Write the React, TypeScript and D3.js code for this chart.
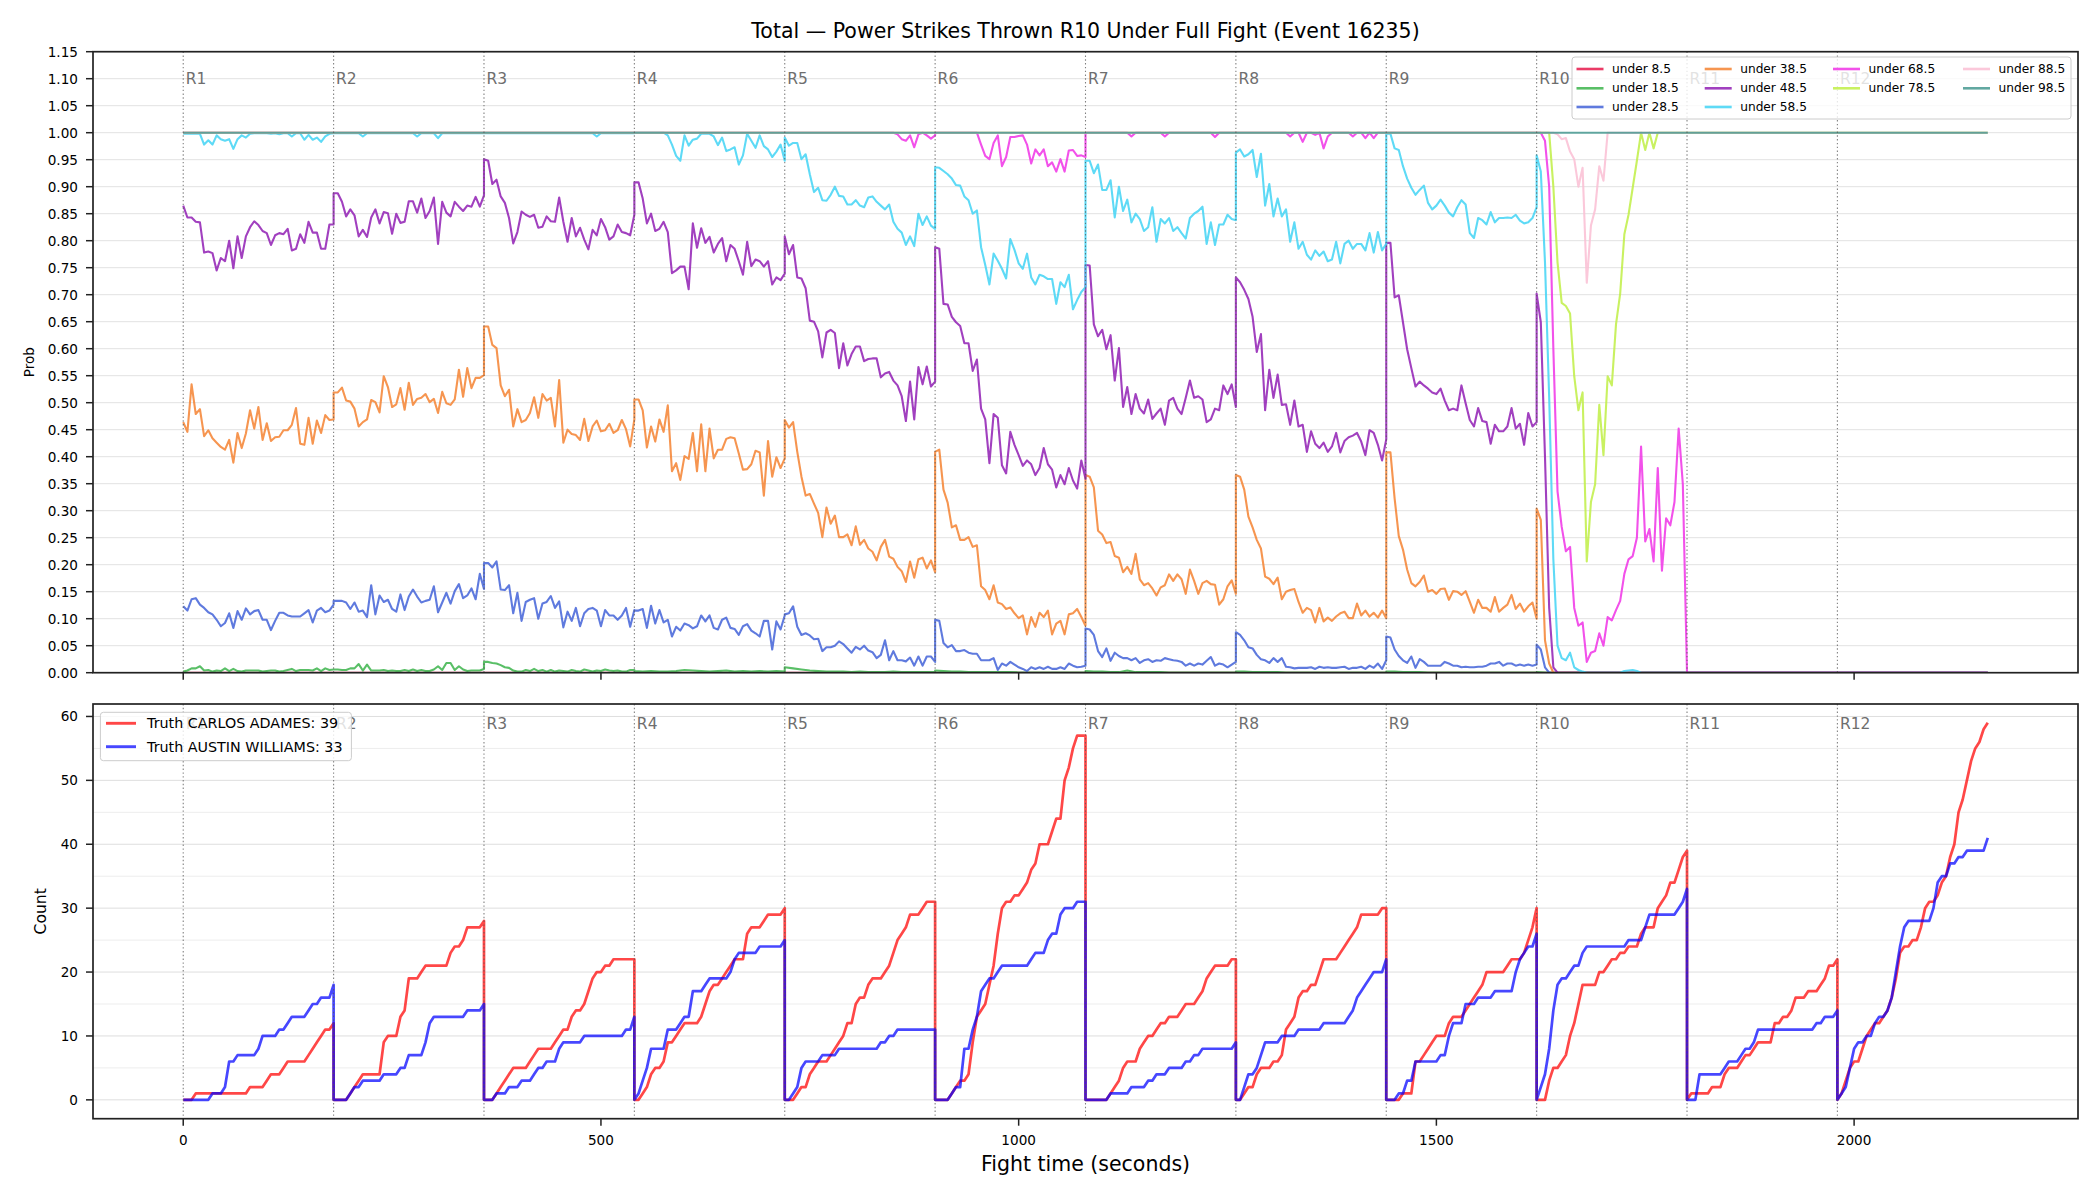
import React from "react";
import * as d3 from "d3";

// ---- data -----------------------------------------------------------------
// Each series is a list of 12 rounds; each round's values are spread evenly
// across that round's 180 seconds.

const ROUND_SECONDS = 180;
const ROUND_NAMES = ["R1", "R2", "R3", "R4", "R5", "R6", "R7", "R8", "R9", "R10", "R11", "R12"];
const X_TICKS = [0, 500, 1000, 1500, 2000];
const PROB_TICKS = [0, 0.05, 0.1, 0.15, 0.2, 0.25, 0.3, 0.35, 0.4, 0.45, 0.5, 0.55, 0.6, 0.65, 0.7, 0.75, 0.8, 0.85, 0.9, 0.95, 1.0, 1.05, 1.1, 1.15];
const COUNT_TICKS = [0, 10, 20, 30, 40, 50, 60];
const COUNT_MINOR = [5, 15, 25, 35, 45, 55];

const LINE_LABELS = ["under 8.5", "under 18.5", "under 28.5", "under 38.5", "under 48.5", "under 58.5", "under 68.5", "under 78.5", "under 88.5", "under 98.5"];
const LINE_COLORS = ["#e6194B", "#3cb44b", "#4363d8", "#f58231", "#911eb4", "#42d4f4", "#f032e6", "#bfef45", "#fabed4", "#469990"];

const UNDER_8_5 = [[0, 0], [0, 0], [0, 0], [0, 0], [0, 0], [0, 0], [0, 0], [0, 0], [0, 0], [0, 0], [0, 0], [0, 0]];

const UNDER_18_5 = [
  [0.002, 0.004, 0.008, 0.008, 0.012, 0.004, 0.005, 0.002, 0.004, 0.003, 0.008, 0.003, 0.007, 0.003, 0.002, 0.004, 0.004, 0.004, 0.004, 0.002, 0.003, 0.004, 0.004, 0.002, 0.003, 0.005, 0.007, 0.003, 0.005, 0.005, 0.005, 0.004, 0.008, 0.003, 0.008, 0.005, 0.006],
  [0.006, 0.006, 0.005, 0.005, 0.008, 0.008, 0.016, 0.004, 0.015, 0.004, 0.004, 0.004, 0.005, 0.003, 0.004, 0.003, 0.003, 0.005, 0.003, 0.006, 0.003, 0.005, 0.003, 0.003, 0.006, 0.012, 0.005, 0.018, 0.018, 0.005, 0.012, 0.006, 0.003, 0.004, 0.004, 0.004, 0.007],
  [0.02, 0.02, 0.018, 0.017, 0.014, 0.01, 0.009, 0.004, 0.002, 0.002, 0.005, 0.003, 0.007, 0.003, 0.005, 0.002, 0.005, 0.002, 0.004, 0.003, 0.002, 0.005, 0.003, 0.002, 0.006, 0.004, 0.002, 0.004, 0.003, 0.006, 0.004, 0.003, 0.004, 0.002, 0.002, 0.005, 0.005],
  [0.003, 0.002, 0.003, 0.002, 0.002, 0.003, 0.005, 0.004, 0.003, 0.002, 0.003, 0.004, 0.002, 0.003, 0.002, 0.003, 0.002, 0.003, 0.002],
  [0.01, 0.008, 0.006, 0.004, 0.003, 0.002, 0.002, 0.002, 0.001, 0.002, 0.001, 0.001, 0.001, 0.002, 0.001, 0.001, 0.001, 0.001, 0.001],
  [0.004, 0.003, 0.002, 0.002, 0.001, 0.001, 0.001, 0.001, 0.001, 0.001, 0.0005, 0.0005, 0.0005, 0.0005, 0.0005, 0.0005, 0.0005, 0.0005, 0.0005],
  [0.003, 0.002, 0.002, 0.001, 0.001, 0.004, 0.001, 0.001, 0.001, 0.001, 0.0005, 0.0005, 0.0005, 0.0005, 0.0005, 0.0005, 0.0005, 0.0005, 0.0005],
  [0.002, 0.002, 0.001, 0.001, 0.001, 0.001, 0.0005, 0.0005, 0.0005, 0.0005, 0.0005, 0.0005, 0.0005, 0.0005, 0.0005, 0.0005, 0.0005, 0.0005, 0.0005],
  [0.002, 0.002, 0.001, 0.001, 0.001, 0.0005, 0.0005, 0.0005, 0.0005, 0.0005, 0.0005, 0.0005, 0.0005, 0.0005, 0.0005, 0.0005, 0.0005, 0.0005, 0.0005],
  [0.001, 0.0005, 0, 0, 0, 0, 0, 0, 0, 0, 0, 0, 0, 0, 0, 0, 0, 0, 0],
  [0, 0],
  [0, 0],
];

const UNDER_28_5 = [
  [0.123, 0.115, 0.136, 0.138, 0.126, 0.12, 0.112, 0.108, 0.098, 0.086, 0.092, 0.11, 0.083, 0.114, 0.098, 0.119, 0.108, 0.114, 0.116, 0.098, 0.098, 0.079, 0.096, 0.111, 0.111, 0.106, 0.104, 0.104, 0.104, 0.11, 0.116, 0.093, 0.115, 0.12, 0.112, 0.115, 0.126],
  [0.133, 0.133, 0.133, 0.13, 0.118, 0.13, 0.113, 0.115, 0.103, 0.162, 0.108, 0.143, 0.131, 0.135, 0.118, 0.113, 0.145, 0.116, 0.141, 0.154, 0.141, 0.13, 0.133, 0.135, 0.16, 0.112, 0.13, 0.148, 0.128, 0.151, 0.164, 0.138, 0.143, 0.156, 0.136, 0.183, 0.155],
  [0.203, 0.203, 0.195, 0.206, 0.154, 0.153, 0.162, 0.11, 0.148, 0.096, 0.131, 0.135, 0.138, 0.1, 0.128, 0.131, 0.142, 0.12, 0.132, 0.084, 0.113, 0.096, 0.12, 0.086, 0.11, 0.118, 0.12, 0.115, 0.086, 0.116, 0.106, 0.106, 0.098, 0.106, 0.12, 0.085, 0.116],
  [0.115, 0.115, 0.118, 0.083, 0.124, 0.091, 0.116, 0.093, 0.098, 0.067, 0.085, 0.078, 0.091, 0.088, 0.082, 0.086, 0.106, 0.095, 0.106, 0.083, 0.08, 0.098, 0.102, 0.083, 0.081, 0.07, 0.086, 0.09, 0.078, 0.073, 0.067, 0.096, 0.096, 0.043, 0.095, 0.08, 0.106],
  [0.108, 0.11, 0.123, 0.085, 0.07, 0.073, 0.069, 0.062, 0.063, 0.04, 0.047, 0.047, 0.05, 0.058, 0.053, 0.045, 0.037, 0.048, 0.043, 0.05, 0.041, 0.038, 0.027, 0.033, 0.06, 0.023, 0.04, 0.023, 0.023, 0.021, 0.028, 0.013, 0.03, 0.013, 0.03, 0.03, 0.02],
  [0.098, 0.096, 0.055, 0.047, 0.051, 0.04, 0.04, 0.042, 0.037, 0.035, 0.035, 0.023, 0.023, 0.023, 0.027, 0.005, 0.017, 0.013, 0.02, 0.015, 0.01, 0.007, 0.003, 0.01, 0.007, 0.01, 0.007, 0.011, 0.007, 0.007, 0.01, 0.007, 0.017, 0.013, 0.01, 0.011, 0.013],
  [0.082, 0.08, 0.07, 0.04, 0.029, 0.045, 0.022, 0.037, 0.031, 0.027, 0.027, 0.023, 0.027, 0.018, 0.023, 0.025, 0.02, 0.023, 0.022, 0.027, 0.025, 0.023, 0.022, 0.02, 0.013, 0.017, 0.013, 0.017, 0.015, 0.022, 0.029, 0.013, 0.017, 0.015, 0.01, 0.015, 0.02],
  [0.075, 0.07, 0.06, 0.047, 0.045, 0.033, 0.025, 0.023, 0.018, 0.027, 0.02, 0.027, 0.011, 0.01, 0.008, 0.009, 0.009, 0.009, 0.01, 0.007, 0.011, 0.009, 0.01, 0.009, 0.009, 0.01, 0.011, 0.007, 0.009, 0.009, 0.011, 0.007, 0.013, 0.009, 0.017, 0.007, 0.023],
  [0.067, 0.065, 0.043, 0.031, 0.023, 0.018, 0.03, 0.009, 0.025, 0.02, 0.013, 0.013, 0.013, 0.013, 0.02, 0.017, 0.013, 0.013, 0.01, 0.011, 0.01, 0.01, 0.011, 0.011, 0.013, 0.017, 0.017, 0.02, 0.013, 0.017, 0.017, 0.013, 0.015, 0.013, 0.015, 0.013, 0.015],
  [0.052, 0.043, 0.01, 0, 0, 0, 0, 0, 0, 0, 0, 0, 0, 0, 0, 0, 0, 0, 0, 0, 0, 0, 0, 0, 0, 0, 0, 0, 0, 0, 0, 0, 0, 0, 0, 0, 0],
  [0, 0],
  [0, 0],
];

const UNDER_38_5 = [
  [0.464, 0.446, 0.534, 0.479, 0.488, 0.438, 0.449, 0.434, 0.426, 0.418, 0.413, 0.431, 0.389, 0.444, 0.416, 0.443, 0.486, 0.452, 0.492, 0.431, 0.462, 0.429, 0.436, 0.437, 0.449, 0.449, 0.459, 0.49, 0.424, 0.422, 0.472, 0.424, 0.467, 0.444, 0.477, 0.468, 0.469],
  [0.519, 0.519, 0.528, 0.504, 0.502, 0.489, 0.456, 0.464, 0.469, 0.505, 0.501, 0.482, 0.549, 0.529, 0.492, 0.497, 0.527, 0.487, 0.537, 0.496, 0.507, 0.509, 0.516, 0.501, 0.507, 0.481, 0.52, 0.499, 0.496, 0.506, 0.561, 0.511, 0.564, 0.527, 0.546, 0.546, 0.551],
  [0.641, 0.641, 0.607, 0.601, 0.532, 0.512, 0.524, 0.456, 0.488, 0.464, 0.468, 0.481, 0.51, 0.472, 0.516, 0.504, 0.509, 0.456, 0.542, 0.426, 0.45, 0.442, 0.44, 0.431, 0.47, 0.429, 0.456, 0.467, 0.447, 0.449, 0.461, 0.444, 0.449, 0.468, 0.451, 0.419, 0.469],
  [0.506, 0.506, 0.486, 0.417, 0.456, 0.428, 0.469, 0.446, 0.495, 0.373, 0.388, 0.357, 0.401, 0.396, 0.444, 0.373, 0.46, 0.373, 0.452, 0.397, 0.413, 0.413, 0.433, 0.436, 0.434, 0.406, 0.376, 0.377, 0.386, 0.411, 0.408, 0.328, 0.429, 0.363, 0.399, 0.379, 0.397],
  [0.468, 0.454, 0.464, 0.409, 0.363, 0.328, 0.331, 0.313, 0.296, 0.251, 0.306, 0.276, 0.291, 0.251, 0.251, 0.256, 0.236, 0.271, 0.237, 0.246, 0.23, 0.224, 0.208, 0.233, 0.246, 0.215, 0.211, 0.196, 0.188, 0.168, 0.206, 0.176, 0.21, 0.213, 0.193, 0.208, 0.186],
  [0.409, 0.413, 0.339, 0.315, 0.269, 0.273, 0.246, 0.246, 0.251, 0.233, 0.236, 0.16, 0.153, 0.136, 0.162, 0.13, 0.127, 0.118, 0.121, 0.11, 0.101, 0.106, 0.071, 0.103, 0.085, 0.111, 0.103, 0.115, 0.071, 0.091, 0.096, 0.071, 0.108, 0.11, 0.118, 0.103, 0.087],
  [0.366, 0.363, 0.343, 0.263, 0.256, 0.24, 0.242, 0.216, 0.213, 0.186, 0.196, 0.183, 0.22, 0.173, 0.162, 0.166, 0.156, 0.143, 0.158, 0.162, 0.182, 0.17, 0.182, 0.173, 0.146, 0.191, 0.17, 0.146, 0.166, 0.17, 0.164, 0.163, 0.126, 0.136, 0.16, 0.171, 0.146],
  [0.366, 0.363, 0.339, 0.289, 0.269, 0.246, 0.23, 0.178, 0.174, 0.164, 0.176, 0.136, 0.15, 0.153, 0.155, 0.131, 0.111, 0.12, 0.116, 0.093, 0.12, 0.095, 0.102, 0.096, 0.104, 0.11, 0.113, 0.101, 0.101, 0.128, 0.106, 0.115, 0.104, 0.111, 0.102, 0.115, 0.101],
  [0.408, 0.408, 0.323, 0.253, 0.228, 0.191, 0.166, 0.16, 0.168, 0.18, 0.15, 0.153, 0.146, 0.155, 0.156, 0.135, 0.151, 0.15, 0.144, 0.151, 0.131, 0.111, 0.135, 0.12, 0.12, 0.113, 0.14, 0.113, 0.12, 0.126, 0.144, 0.118, 0.128, 0.113, 0.123, 0.13, 0.1],
  [0.304, 0.283, 0.06, 0.017, 0, 0, 0, 0, 0, 0, 0, 0, 0, 0, 0, 0, 0, 0, 0, 0, 0, 0, 0, 0, 0, 0, 0, 0, 0, 0, 0, 0, 0, 0, 0, 0, 0],
  [0, 0],
  [0, 0],
];

const UNDER_48_5 = [
  [0.865, 0.843, 0.843, 0.835, 0.834, 0.778, 0.78, 0.777, 0.745, 0.768, 0.762, 0.8, 0.749, 0.808, 0.768, 0.808, 0.825, 0.836, 0.829, 0.818, 0.814, 0.792, 0.81, 0.814, 0.812, 0.822, 0.782, 0.785, 0.812, 0.796, 0.835, 0.815, 0.815, 0.785, 0.785, 0.83, 0.83],
  [0.888, 0.888, 0.872, 0.845, 0.858, 0.847, 0.808, 0.82, 0.807, 0.843, 0.858, 0.832, 0.853, 0.851, 0.813, 0.85, 0.833, 0.835, 0.873, 0.873, 0.852, 0.878, 0.842, 0.855, 0.88, 0.794, 0.872, 0.852, 0.845, 0.872, 0.863, 0.855, 0.865, 0.863, 0.881, 0.863, 0.884],
  [0.951, 0.948, 0.905, 0.913, 0.882, 0.87, 0.842, 0.795, 0.816, 0.854, 0.848, 0.844, 0.848, 0.824, 0.826, 0.845, 0.836, 0.835, 0.88, 0.835, 0.798, 0.842, 0.808, 0.824, 0.802, 0.784, 0.82, 0.81, 0.84, 0.825, 0.802, 0.808, 0.83, 0.816, 0.814, 0.81, 0.848],
  [0.908, 0.908, 0.878, 0.832, 0.85, 0.818, 0.822, 0.835, 0.816, 0.74, 0.745, 0.752, 0.752, 0.71, 0.832, 0.787, 0.823, 0.796, 0.807, 0.778, 0.794, 0.805, 0.762, 0.792, 0.785, 0.762, 0.737, 0.798, 0.753, 0.765, 0.762, 0.752, 0.762, 0.719, 0.732, 0.727, 0.739],
  [0.808, 0.775, 0.792, 0.732, 0.73, 0.712, 0.652, 0.65, 0.632, 0.584, 0.63, 0.635, 0.629, 0.564, 0.61, 0.569, 0.59, 0.604, 0.604, 0.577, 0.581, 0.582, 0.582, 0.547, 0.554, 0.557, 0.541, 0.532, 0.512, 0.466, 0.539, 0.469, 0.566, 0.534, 0.567, 0.53, 0.539],
  [0.788, 0.785, 0.683, 0.682, 0.659, 0.649, 0.642, 0.61, 0.61, 0.559, 0.58, 0.489, 0.469, 0.388, 0.479, 0.472, 0.384, 0.369, 0.446, 0.422, 0.403, 0.383, 0.393, 0.386, 0.366, 0.379, 0.416, 0.386, 0.376, 0.343, 0.366, 0.349, 0.379, 0.356, 0.341, 0.393, 0.359],
  [0.755, 0.754, 0.645, 0.623, 0.635, 0.599, 0.625, 0.541, 0.601, 0.492, 0.529, 0.479, 0.516, 0.489, 0.48, 0.506, 0.47, 0.48, 0.489, 0.459, 0.504, 0.509, 0.489, 0.479, 0.509, 0.541, 0.509, 0.512, 0.506, 0.464, 0.469, 0.489, 0.486, 0.532, 0.516, 0.534, 0.492],
  [0.732, 0.723, 0.709, 0.692, 0.659, 0.594, 0.627, 0.486, 0.561, 0.509, 0.552, 0.496, 0.497, 0.459, 0.504, 0.456, 0.459, 0.409, 0.447, 0.424, 0.416, 0.426, 0.409, 0.419, 0.444, 0.408, 0.429, 0.436, 0.439, 0.444, 0.428, 0.403, 0.449, 0.444, 0.422, 0.393, 0.432],
  [0.796, 0.796, 0.695, 0.699, 0.649, 0.599, 0.564, 0.53, 0.539, 0.532, 0.526, 0.519, 0.516, 0.526, 0.504, 0.486, 0.489, 0.486, 0.532, 0.499, 0.468, 0.456, 0.49, 0.466, 0.464, 0.424, 0.459, 0.447, 0.447, 0.456, 0.49, 0.452, 0.461, 0.422, 0.481, 0.456, 0.464],
  [0.702, 0.649, 0.4, 0.12, 0.01, 0, 0, 0, 0, 0, 0, 0, 0, 0, 0, 0, 0, 0, 0, 0, 0, 0, 0, 0, 0, 0, 0, 0, 0, 0, 0, 0, 0, 0, 0, 0, 0],
  [0, 0],
  [0, 0],
];

const UNDER_58_5 = [
  [0.998, 0.998, 0.998, 0.998, 0.998, 0.978, 0.986, 0.978, 0.995, 0.988, 0.985, 0.988, 0.97, 0.988, 0.995, 0.991, 0.998, 0.999, 0.999, 0.999, 0.999, 0.998, 0.999, 0.997, 0.999, 0.999, 0.993, 0.999, 0.999, 0.987, 0.996, 0.987, 0.991, 0.983, 0.993, 0.998, 0.999],
  [0.999, 0.999, 0.999, 0.999, 0.999, 0.999, 0.999, 0.993, 0.999, 0.999, 0.999, 0.999, 0.999, 0.999, 0.999, 0.999, 0.999, 0.999, 0.999, 0.999, 0.993, 0.999, 0.999, 0.999, 0.999, 0.99, 0.999, 0.999, 0.999, 0.999, 0.999, 0.999, 0.999, 0.999, 0.999, 0.999, 0.999],
  [0.999, 0.999, 0.999, 0.999, 0.999, 0.999, 0.999, 0.999, 0.999, 0.999, 0.999, 0.999, 0.999, 0.999, 0.999, 0.999, 0.999, 0.999, 0.999, 0.999, 0.999, 0.999, 0.999, 0.999, 0.999, 0.999, 0.999, 0.993, 0.999, 0.999, 0.999, 0.999, 0.999, 0.999, 0.999, 0.999, 0.999],
  [1, 1, 1, 1, 1, 1, 1, 1, 0.995, 0.978, 0.957, 0.948, 0.995, 0.976, 0.987, 0.989, 0.998, 0.998, 0.998, 0.993, 0.977, 0.991, 0.966, 0.969, 0.973, 0.941, 0.958, 0.998, 0.985, 0.972, 0.995, 0.975, 0.969, 0.955, 0.965, 0.978, 0.948],
  [0.991, 0.976, 0.981, 0.981, 0.951, 0.96, 0.923, 0.89, 0.898, 0.875, 0.874, 0.885, 0.9, 0.883, 0.882, 0.867, 0.867, 0.875, 0.865, 0.862, 0.88, 0.882, 0.872, 0.865, 0.858, 0.867, 0.835, 0.822, 0.815, 0.792, 0.808, 0.79, 0.85, 0.829, 0.845, 0.828, 0.822],
  [0.936, 0.935, 0.929, 0.923, 0.915, 0.903, 0.902, 0.882, 0.875, 0.85, 0.856, 0.788, 0.755, 0.719, 0.776, 0.763, 0.748, 0.73, 0.803, 0.783, 0.758, 0.748, 0.776, 0.732, 0.719, 0.737, 0.734, 0.729, 0.729, 0.683, 0.723, 0.714, 0.737, 0.673, 0.69, 0.705, 0.714],
  [0.948, 0.948, 0.925, 0.941, 0.894, 0.894, 0.912, 0.843, 0.9, 0.855, 0.876, 0.834, 0.85, 0.84, 0.818, 0.825, 0.862, 0.798, 0.84, 0.832, 0.842, 0.818, 0.825, 0.814, 0.804, 0.842, 0.85, 0.855, 0.863, 0.794, 0.834, 0.792, 0.83, 0.83, 0.848, 0.84, 0.838],
  [0.963, 0.969, 0.956, 0.96, 0.968, 0.918, 0.961, 0.865, 0.905, 0.845, 0.878, 0.845, 0.858, 0.798, 0.834, 0.785, 0.798, 0.774, 0.765, 0.782, 0.772, 0.78, 0.762, 0.765, 0.798, 0.758, 0.794, 0.8, 0.785, 0.794, 0.794, 0.782, 0.814, 0.778, 0.816, 0.782, 0.794],
  [0.998, 0.998, 0.971, 0.968, 0.938, 0.915, 0.898, 0.885, 0.894, 0.902, 0.87, 0.858, 0.865, 0.876, 0.865, 0.852, 0.845, 0.862, 0.875, 0.867, 0.814, 0.805, 0.842, 0.838, 0.83, 0.853, 0.834, 0.842, 0.842, 0.843, 0.842, 0.848, 0.837, 0.832, 0.834, 0.842, 0.862],
  [0.958, 0.928, 0.76, 0.51, 0.21, 0.05, 0.027, 0.023, 0.037, 0.01, 0.005, 0.002, 0, 0, 0, 0, 0, 0, 0, 0, 0, 0.003, 0.004, 0.005, 0.003, 0, 0, 0, 0, 0, 0, 0, 0, 0, 0, 0, 0],
  [0, 0],
  [0, 0],
];

const UNDER_68_5 = [
  [1, 1], [1, 1], [1, 1], [1, 1],
  [1, 1, 1, 1, 1, 1, 1, 1, 1, 1, 1, 1, 1, 1, 1, 1, 1, 1, 1, 1, 1, 1, 1, 1, 1, 1, 1, 0.997, 0.988, 0.985, 0.995, 0.973, 0.997, 1, 0.995, 0.989, 0.995],
  [1, 1, 1, 1, 1, 1, 1, 1, 1, 1, 1, 0.978, 0.957, 0.951, 0.981, 0.995, 0.938, 0.955, 0.992, 0.992, 0.994, 0.995, 0.978, 0.943, 0.969, 0.958, 0.969, 0.938, 0.945, 0.928, 0.951, 0.928, 0.967, 0.968, 0.957, 0.958, 0.955],
  [1, 1, 1, 1, 1, 1, 1, 1, 1, 1, 1, 0.993, 1, 1, 1, 1, 1, 1, 1, 0.993, 1, 1, 1, 1, 1, 1, 1, 1, 1, 1, 1, 0.992, 1, 1, 1, 1, 1],
  [1, 1, 1, 1, 1, 1, 1, 1, 1, 1, 1, 1, 1, 0.993, 1, 1, 0.983, 1, 1, 0.996, 1, 0.971, 0.993, 1, 1, 1, 1, 1, 0.993, 1, 1, 0.99, 1, 0.99, 1, 1, 1],
  [1, 1],
  [1, 1, 0.985, 0.9, 0.6, 0.336, 0.27, 0.225, 0.233, 0.12, 0.087, 0.093, 0.02, 0.037, 0.04, 0.073, 0.05, 0.103, 0.097, 0.116, 0.133, 0.183, 0.21, 0.216, 0.25, 0.419, 0.243, 0.266, 0.206, 0.379, 0.189, 0.286, 0.273, 0.316, 0.452, 0.349, 0],
  [0, 0],
  [0, 0],
];

const UNDER_78_5 = [
  [1, 1], [1, 1], [1, 1], [1, 1], [1, 1], [1, 1], [1, 1], [1, 1], [1, 1],
  [1, 1, 1, 1, 0.9, 0.76, 0.685, 0.679, 0.665, 0.549, 0.486, 0.519, 0.206, 0.316, 0.349, 0.496, 0.403, 0.549, 0.532, 0.645, 0.702, 0.812, 0.848, 0.898, 0.948, 1, 0.968, 1, 0.971, 1, 1, 1, 1, 1, 1, 1, 1],
  [1, 1],
  [1, 1],
];

const UNDER_88_5 = [
  [1, 1], [1, 1], [1, 1], [1, 1], [1, 1], [1, 1], [1, 1], [1, 1], [1, 1],
  [1, 1, 1, 1, 1, 0.997, 0.988, 0.99, 0.965, 0.951, 0.9, 0.935, 0.722, 0.828, 0.858, 0.938, 0.911, 1, 1, 1, 1, 1, 1, 1, 1, 1, 1, 1, 1, 1, 1, 1, 1, 1, 1, 1, 1],
  [1, 1],
  [1, 1],
];

const UNDER_98_5 = [[1, 1], [1, 1], [1, 1], [1, 1], [1, 1], [1, 1], [1, 1], [1, 1], [1, 1], [1, 1], [1, 1], [1, 1]];

// Cumulative power strikes within each round, sampled every 5 seconds.
const ADAMES_COUNTS = [
  [0, 0, 0, 1, 1, 1, 1, 1, 1, 1, 1, 1, 1, 1, 1, 1, 2, 2, 2, 2, 3, 4, 4, 4, 5, 6, 6, 6, 6, 6, 7, 8, 9, 10, 11, 11, 12],
  [0, 0, 0, 0, 1, 2, 3, 4, 4, 4, 4, 4, 9, 10, 10, 10, 13, 14, 19, 19, 19, 20, 21, 21, 21, 21, 21, 21, 23, 24, 24, 25, 27, 27, 27, 27, 28],
  [0, 0, 0, 1, 2, 3, 4, 5, 5, 5, 5, 6, 7, 8, 8, 8, 8, 9, 10, 11, 11, 13, 14, 14, 15, 17, 19, 20, 20, 21, 21, 22, 22, 22, 22, 22, 22],
  [0, 0, 1, 2, 4, 5, 5, 6, 9, 9, 10, 11, 12, 12, 12, 12, 13, 15, 17, 18, 18, 19, 20, 21, 22, 22, 22, 26, 27, 27, 27, 28, 29, 29, 29, 29, 30],
  [0, 0, 0, 1, 2, 2, 4, 5, 6, 6, 6, 7, 8, 9, 10, 12, 12, 15, 16, 16, 18, 19, 19, 19, 20, 21, 23, 25, 26, 27, 29, 29, 29, 30, 31, 31, 31],
  [0, 0, 0, 0, 1, 2, 3, 3, 4, 9, 13, 14, 15, 18, 21, 26, 30, 31, 31, 32, 32, 33, 34, 36, 37, 40, 40, 40, 42, 44, 44, 50, 52, 55, 57, 57, 57],
  [0, 0, 0, 0, 0, 0, 1, 2, 3, 5, 6, 6, 6, 8, 9, 10, 10, 11, 12, 12, 13, 13, 13, 14, 15, 15, 15, 16, 17, 19, 20, 21, 21, 21, 21, 22, 22],
  [0, 0, 1, 2, 2, 4, 5, 5, 5, 6, 6, 7, 11, 12, 13, 16, 17, 17, 18, 18, 20, 22, 22, 22, 22, 23, 24, 25, 26, 27, 29, 29, 29, 29, 29, 30, 30],
  [0, 0, 0, 0, 1, 1, 1, 6, 6, 7, 8, 9, 10, 10, 10, 12, 13, 13, 13, 14, 15, 16, 17, 18, 20, 20, 20, 20, 20, 21, 22, 22, 22, 23, 25, 27, 30],
  [0, 0, 0, 3, 5, 5, 6, 7, 10, 12, 15, 18, 18, 18, 18, 20, 20, 21, 22, 22, 23, 23, 24, 24, 24, 26, 27, 27, 27, 30, 31, 32, 34, 34, 36, 38, 39],
  [0, 1, 1, 1, 1, 1, 2, 2, 2, 4, 5, 5, 5, 6, 7, 7, 8, 9, 9, 9, 9, 12, 12, 13, 13, 14, 16, 16, 16, 17, 17, 17, 18, 19, 21, 21, 22],
  [0, 1, 3, 5, 6, 6, 8, 10, 11, 12, 12, 13, 14, 16, 19, 23, 24, 24, 25, 25, 27, 30, 31, 31, 32, 34, 35, 38, 40, 45, 47, 50, 53, 55, 56, 58, 59],
];

const WILLIAMS_COUNTS = [
  [0, 0, 0, 0, 0, 0, 0, 1, 1, 1, 2, 6, 6, 7, 7, 7, 7, 7, 8, 10, 10, 10, 10, 11, 11, 12, 13, 13, 13, 13, 14, 15, 15, 16, 16, 16, 18],
  [0, 0, 0, 0, 1, 2, 2, 3, 3, 3, 3, 3, 4, 4, 4, 4, 5, 5, 7, 7, 7, 7, 9, 12, 13, 13, 13, 13, 13, 13, 13, 13, 14, 14, 14, 14, 15],
  [0, 0, 0, 1, 1, 1, 2, 2, 2, 3, 3, 3, 4, 5, 5, 6, 6, 6, 8, 9, 9, 9, 9, 9, 10, 10, 10, 10, 10, 10, 10, 10, 10, 10, 11, 11, 13],
  [0, 1, 3, 5, 8, 8, 8, 8, 11, 11, 11, 12, 13, 13, 17, 17, 17, 18, 19, 19, 19, 19, 19, 20, 22, 23, 23, 23, 23, 23, 24, 24, 24, 24, 24, 24, 25],
  [0, 0, 1, 2, 5, 6, 6, 6, 6, 7, 7, 7, 7, 8, 8, 8, 8, 8, 8, 8, 8, 8, 8, 9, 9, 10, 10, 11, 11, 11, 11, 11, 11, 11, 11, 11, 11],
  [0, 0, 0, 0, 1, 2, 2, 8, 8, 11, 13, 17, 18, 19, 19, 20, 21, 21, 21, 21, 21, 21, 21, 22, 23, 23, 23, 25, 26, 26, 29, 30, 30, 30, 31, 31, 31],
  [0, 0, 0, 0, 0, 0, 1, 1, 1, 1, 1, 2, 2, 2, 2, 3, 3, 4, 4, 4, 5, 5, 5, 5, 6, 6, 7, 7, 8, 8, 8, 8, 8, 8, 8, 8, 9],
  [0, 0, 2, 4, 4, 5, 7, 9, 9, 9, 9, 10, 10, 10, 10, 11, 11, 11, 11, 11, 11, 12, 12, 12, 12, 12, 12, 13, 14, 16, 17, 18, 19, 20, 20, 20, 22],
  [0, 0, 0, 1, 1, 3, 3, 6, 6, 6, 6, 6, 6, 7, 7, 10, 12, 12, 12, 15, 15, 15, 16, 16, 16, 16, 17, 17, 17, 17, 17, 20, 22, 23, 24, 24, 26],
  [0, 2, 4, 8, 14, 18, 19, 19, 20, 21, 21, 23, 24, 24, 24, 24, 24, 24, 24, 24, 24, 24, 25, 25, 25, 25, 27, 29, 29, 29, 29, 29, 29, 29, 30, 31, 33],
  [0, 0, 0, 4, 4, 4, 4, 4, 4, 5, 6, 6, 6, 7, 8, 8, 9, 11, 11, 11, 11, 11, 11, 11, 11, 11, 11, 11, 11, 11, 11, 12, 12, 13, 13, 13, 14],
  [0, 1, 2, 5, 8, 9, 9, 10, 10, 12, 13, 13, 14, 16, 20, 24, 27, 28, 28, 28, 28, 28, 28, 30, 34, 35, 35, 37, 37, 38, 38, 39, 39, 39, 39, 39, 41],
];

const PROB_SERIES = [UNDER_8_5, UNDER_18_5, UNDER_28_5, UNDER_38_5, UNDER_48_5, UNDER_58_5, UNDER_68_5, UNDER_78_5, UNDER_88_5, UNDER_98_5];

const TITLE = "Total \u2014 Power Strikes Thrown R10 Under Full Fight (Event 16235)";
const FEATURED_ROUND = 10;
const FIGHTER_NAMES = ["CARLOS ADAMES", "AUSTIN WILLIAMS"];
const FIGHTER_COLORS = ["#ff0000", "#0000ff"];

// ---- helpers --------------------------------------------------------------

type Pt = [number, number];

function toPoints(rounds: number[][]): Pt[] {
  const pts: Pt[] = [];
  rounds.forEach((vals, r) => {
    const step = ROUND_SECONDS / (vals.length - 1);
    vals.forEach((v, i) => pts.push([r * ROUND_SECONDS + i * step, v]));
  });
  return pts;
}

// matplotlib-style legend columns: 10 entries over 4 columns -> 3, 3, 2, 2
function legendSlot(i: number, n: number, ncol: number): [number, number] {
  const base = Math.floor(n / ncol);
  const extra = n % ncol;
  let start = 0;
  for (let c = 0; c < ncol; c++) {
    const size = base + (c < extra ? 1 : 0);
    if (i < start + size) return [c, i - start];
    start += size;
  }
  return [ncol - 1, 0];
}

const FONT = "DejaVu Sans, Liberation Sans, sans-serif";

export default function App() {
  const W = 2100;
  const H = 1200;
  const left = 93;
  const right = 2078;
  const topY0 = 51.7;
  const topY1 = 672.7;
  const botY0 = 704;
  const botY1 = 1118.7;

  const x = d3.scaleLinear().domain([-108, 2268]).range([left, right]);
  const yP = d3.scaleLinear().domain([0, 1.15]).range([topY1, topY0]);
  const yC = d3.scaleLinear().domain([-2.95, 61.95]).range([botY1, botY0]);

  const probLine = d3.line<Pt>().x((d) => x(d[0])).y((d) => yP(d[1]));
  const countLine = d3.line<Pt>().x((d) => x(d[0])).y((d) => yC(d[1]));

  const roundStarts = ROUND_NAMES.map((_, i) => i * ROUND_SECONDS);
  const fmtP = d3.format(".2f");

  const fighterTotals = [ADAMES_COUNTS, WILLIAMS_COUNTS].map((c) => {
    const r = c[FEATURED_ROUND - 1];
    return r[r.length - 1];
  });
  const fighterLabels = FIGHTER_NAMES.map((n, i) => `Truth ${n}: ${fighterTotals[i]}`);

  const tickFont = 13.6;
  const spineW = 1.7;

  const roundLines = (y0: number, y1: number) =>
    roundStarts.map((t, i) => (
      <line
        key={"rl" + i}
        x1={x(t)}
        x2={x(t)}
        y1={y0}
        y2={y1}
        stroke="#555"
        strokeOpacity={0.75}
        strokeWidth={1.1}
        strokeDasharray="1.4 2.4"
      />
    ));

  const roundLabels = (yPos: number, key: string) =>
    ROUND_NAMES.map((name, i) => (
      <text
        key={key + i}
        x={x(roundStarts[i]) + 2.5}
        y={yPos}
        dominantBaseline="central"
        fontSize={15.5}
        fill="#6e6e6e"
        fontFamily={FONT}
      >
        {name}
      </text>
    ));

  const xTickMarks = (yBase: number, withLabels: boolean, key: string) =>
    X_TICKS.map((t) => (
      <g key={key + t}>
        <line x1={x(t)} x2={x(t)} y1={yBase} y2={yBase + 7} stroke="#222" strokeWidth={1.5} />
        {withLabels && (
          <text x={x(t)} y={yBase + 26} textAnchor="middle" fontSize={tickFont} fontFamily={FONT} fill="#000">
            {t}
          </text>
        )}
      </g>
    ));

  // legend layout for the probability panel
  const legColX = [1576.5, 1704.7, 1833, 1963];
  const legRowY = [69, 88.3, 107];

  return (
    <svg
      width={W}
      height={H}
      viewBox={`0 0 ${W} ${H}`}
      style={{ position: "absolute", left: 0, top: 0, background: "#fff" }}
      fontFamily={FONT}
    >
      <defs>
        <clipPath id="clipTop">
          <rect x={left} y={topY0} width={right - left} height={topY1 - topY0} />
        </clipPath>
        <clipPath id="clipBot">
          <rect x={left} y={botY0} width={right - left} height={botY1 - botY0} />
        </clipPath>
      </defs>
      <rect x={0} y={0} width={W} height={H} fill="#fff" />

      <text x={(left + right) / 2} y={38} textAnchor="middle" fontSize={20.5} fill="#000">
        {TITLE}
      </text>

      {/* ---------------- probability panel ---------------- */}
      {PROB_TICKS.map((v) => (
        <line key={"gp" + v} x1={left} x2={right} y1={yP(v)} y2={yP(v)} stroke="#e2e2e2" strokeWidth={1} />
      ))}
      <g clipPath="url(#clipTop)">
        {PROB_SERIES.map((s, i) => (
          <path
            key={"ps" + i}
            d={probLine(toPoints(s)) || ""}
            fill="none"
            stroke={LINE_COLORS[i]}
            strokeOpacity={0.85}
            strokeWidth={2.1}
            strokeLinejoin="round"
          />
        ))}
        {roundLines(topY0, topY1)}
        {roundLabels(yP(1.1), "rtp")}
      </g>
      <rect x={left} y={topY0} width={right - left} height={topY1 - topY0} fill="none" stroke="#222" strokeWidth={spineW} />
      {PROB_TICKS.map((v) => (
        <g key={"tp" + v}>
          <line x1={left - 7} x2={left} y1={yP(v)} y2={yP(v)} stroke="#222" strokeWidth={1.5} />
          <text x={78} y={yP(v)} textAnchor="end" dominantBaseline="central" fontSize={tickFont} fill="#000">
            {fmtP(v)}
          </text>
        </g>
      ))}
      {xTickMarks(topY1, false, "xtp")}
      <text
        transform={`translate(29, ${(topY0 + topY1) / 2}) rotate(-90)`}
        textAnchor="middle"
        dominantBaseline="central"
        fontSize={13.6}
        fill="#000"
      >
        Prob
      </text>

      {/* legend for thresholds */}
      <rect x={1572} y={57} width={499} height={62} rx={3} fill="#fff" fillOpacity={0.8} stroke="#cccccc" strokeWidth={1} />
      {LINE_LABELS.map((lab, i) => {
        const [col, row] = legendSlot(i, LINE_LABELS.length, 4);
        const hx = legColX[col];
        const hy = legRowY[row];
        return (
          <g key={"lg" + i}>
            <line x1={hx} x2={hx + 27} y1={hy} y2={hy} stroke={LINE_COLORS[i]} strokeOpacity={0.85} strokeWidth={2.6} />
            <text x={hx + 35.5} y={hy} dominantBaseline="central" fontSize={12.2} fill="#000">
              {lab}
            </text>
          </g>
        );
      })}

      {/* ---------------- count panel ---------------- */}
      {COUNT_MINOR.map((v) => (
        <line key={"gm" + v} x1={left} x2={right} y1={yC(v)} y2={yC(v)} stroke="#ededed" strokeWidth={1} />
      ))}
      {COUNT_TICKS.map((v) => (
        <line key={"gc" + v} x1={left} x2={right} y1={yC(v)} y2={yC(v)} stroke="#dedede" strokeWidth={1} />
      ))}
      <g clipPath="url(#clipBot)">
        {[ADAMES_COUNTS, WILLIAMS_COUNTS].map((c, i) => (
          <path
            key={"cs" + i}
            d={countLine(toPoints(c)) || ""}
            fill="none"
            stroke={FIGHTER_COLORS[i]}
            strokeOpacity={0.72}
            strokeWidth={2.7}
            strokeLinejoin="round"
          />
        ))}
        {roundLines(botY0, botY1)}
        {roundLabels(yC(58.85), "rbt")}
      </g>
      <rect x={left} y={botY0} width={right - left} height={botY1 - botY0} fill="none" stroke="#222" strokeWidth={spineW} />
      {COUNT_TICKS.map((v) => (
        <g key={"tc" + v}>
          <line x1={left - 7} x2={left} y1={yC(v)} y2={yC(v)} stroke="#222" strokeWidth={1.5} />
          <text x={78} y={yC(v)} textAnchor="end" dominantBaseline="central" fontSize={tickFont} fill="#000">
            {v}
          </text>
        </g>
      ))}
      {xTickMarks(botY1, true, "xtb")}
      <text
        transform={`translate(41, ${(botY0 + botY1) / 2}) rotate(-90)`}
        textAnchor="middle"
        dominantBaseline="central"
        fontSize={15.6}
        fill="#000"
      >
        Count
      </text>
      <text x={(left + right) / 2} y={1171} textAnchor="middle" fontSize={20.5} fill="#000">
        Fight time (seconds)
      </text>

      {/* legend for fighters */}
      <rect x={100.4} y={712.3} width={251} height={48.4} rx={3} fill="#fff" fillOpacity={0.8} stroke="#cccccc" strokeWidth={1} />
      {fighterLabels.map((lab, i) => {
        const hy = 723.3 + i * 23.4;
        return (
          <g key={"fl" + i}>
            <line x1={106} x2={136} y1={hy} y2={hy} stroke={FIGHTER_COLORS[i]} strokeOpacity={0.72} strokeWidth={2.9} />
            <text x={147} y={hy} dominantBaseline="central" fontSize={14.3} fill="#000">
              {lab}
            </text>
          </g>
        );
      })}
    </svg>
  );
}
